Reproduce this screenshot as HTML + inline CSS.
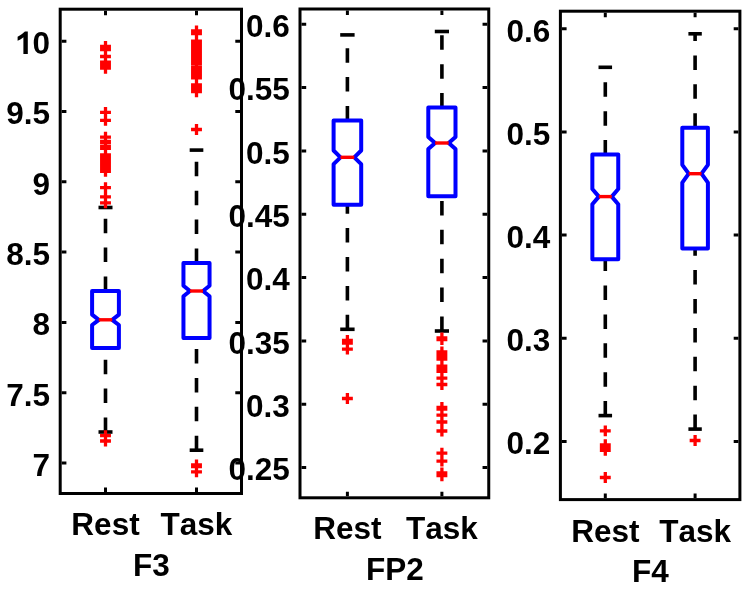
<!DOCTYPE html>
<html><head><meta charset="utf-8"><style>
html,body{margin:0;padding:0;background:#fff;width:749px;height:590px;overflow:hidden}
svg{display:block;will-change:transform}
text{font-family:"Liberation Sans",sans-serif;font-weight:bold;font-size:31.5px;font-kerning:none;fill:#000}
</style></head><body>
<svg width="749" height="590" viewBox="0 0 749 590">
<rect width="749" height="590" fill="#fff"/>
<g>
<text x="50" y="54" text-anchor="end">0</text>
<path d="M27.8 31.5V54H23.4V37.3C21.8 38.8 19.9 39.9 17.6 40.7V36.8C19 36.2 20.5 35.2 22 34C23.4 32.9 24.3 32.2 24.9 31.6Z" fill="#000"/>
<text x="50" y="124.3" text-anchor="end">9.5</text>
<text x="50" y="194.6" text-anchor="end">9</text>
<text x="50" y="264.9" text-anchor="end">8.5</text>
<text x="50" y="335.2" text-anchor="end">8</text>
<text x="50" y="405.5" text-anchor="end">7.5</text>
<text x="50" y="475.8" text-anchor="end">7</text>
<text x="105.5" y="535" text-anchor="middle">Rest</text>
<text x="196.5" y="535" text-anchor="middle">Task</text>
<text x="151.3" y="575.6" text-anchor="middle">F3</text>
<text x="289.9" y="37" text-anchor="end">0.6</text>
<text x="289.9" y="100.34" text-anchor="end">0.55</text>
<text x="289.9" y="163.68" text-anchor="end">0.5</text>
<text x="289.9" y="227.02" text-anchor="end">0.45</text>
<text x="289.9" y="290.36" text-anchor="end">0.4</text>
<text x="289.9" y="353.7" text-anchor="end">0.35</text>
<text x="289.9" y="417.04" text-anchor="end">0.3</text>
<text x="289.9" y="480.38" text-anchor="end">0.25</text>
<text x="347.4" y="539" text-anchor="middle">Rest</text>
<text x="441.9" y="539" text-anchor="middle">Task</text>
<text x="395" y="579.7" text-anchor="middle">FP2</text>
<text x="550.3" y="41.6" text-anchor="end">0.6</text>
<text x="550.3" y="144.75" text-anchor="end">0.5</text>
<text x="550.3" y="247.9" text-anchor="end">0.4</text>
<text x="550.3" y="351.05" text-anchor="end">0.3</text>
<text x="550.3" y="454.2" text-anchor="end">0.2</text>
<text x="605.3" y="541.7" text-anchor="middle">Rest</text>
<text x="695.1" y="541.7" text-anchor="middle">Task</text>
<text x="650.5" y="582" text-anchor="middle">F4</text>
</g>
<g>
<line x1="105.5" y1="291" x2="105.5" y2="207.5" stroke="#000" stroke-width="3.6" stroke-dasharray="14.5 14.4"/>
<line x1="105.5" y1="432" x2="105.5" y2="348" stroke="#000" stroke-width="3.6" stroke-dasharray="14.5 14.4"/>
<line x1="98.5" y1="207.5" x2="112.5" y2="207.5" stroke="#000" stroke-width="3.6"/>
<line x1="98.5" y1="432" x2="112.5" y2="432" stroke="#000" stroke-width="3.6"/>
<polygon points="92.1,348 92.1,325 98.8,319.8 92.1,314.6 92.1,291 118.9,291 118.9,314.6 112.2,319.8 118.9,325 118.9,348" fill="none" stroke="#00f" stroke-width="4.0" stroke-linejoin="round"/>
<line x1="98.8" y1="319.8" x2="112.2" y2="319.8" stroke="#f00" stroke-width="3.4"/>
<path d="M100.05 46.5h10.9M105.5 41.05v10.9M100.05 49.7h10.9M105.5 44.25v10.9M100.05 56.5h10.9M105.5 51.05v10.9M100.05 62.2h10.9M105.5 56.75v10.9M100.05 65.5h10.9M105.5 60.05v10.9M100.05 68.2h10.9M105.5 62.75v10.9M100.05 112.4h10.9M105.5 106.95v10.9M100.05 120.3h10.9M105.5 114.85v10.9M100.05 137.1h10.9M105.5 131.65v10.9M100.05 141.5h10.9M105.5 136.05v10.9M100.05 142.9h10.9M105.5 137.45v10.9M100.05 146.6h10.9M105.5 141.15v10.9M100.05 148.4h10.9M105.5 142.95v10.9M100.05 155h10.9M105.5 149.55v10.9M100.05 157.5h10.9M105.5 152.05v10.9M100.05 160h10.9M105.5 154.55v10.9M100.05 162.5h10.9M105.5 157.05v10.9M100.05 165.3h10.9M105.5 159.85v10.9M100.05 168.6h10.9M105.5 163.15v10.9M100.05 171.3h10.9M105.5 165.85v10.9M100.05 187.6h10.9M105.5 182.15v10.9M100.05 196.9h10.9M105.5 191.45v10.9M100.05 202.9h10.9M105.5 197.45v10.9M100.05 435.6h10.9M105.5 430.15v10.9M100.05 441h10.9M105.5 435.55v10.9" stroke="#f00" stroke-width="3.3" fill="none"/>
<line x1="196.5" y1="263" x2="196.5" y2="150.1" stroke="#000" stroke-width="3.6" stroke-dasharray="14.5 14.4"/>
<line x1="196.5" y1="450.2" x2="196.5" y2="338" stroke="#000" stroke-width="3.6" stroke-dasharray="14.5 14.4"/>
<line x1="189.67" y1="150.1" x2="203.33" y2="150.1" stroke="#000" stroke-width="3.6"/>
<line x1="189.67" y1="450.2" x2="203.33" y2="450.2" stroke="#000" stroke-width="3.6"/>
<polygon points="183.45,338 183.45,296.3 189.97,291 183.45,285.7 183.45,263 209.55,263 209.55,285.7 203.03,291 209.55,296.3 209.55,338" fill="none" stroke="#00f" stroke-width="4.0" stroke-linejoin="round"/>
<line x1="189.97" y1="291" x2="203.03" y2="291" stroke="#f00" stroke-width="3.4"/>
<path d="M191.05 31h10.9M196.5 25.55v10.9M191.05 33.6h10.9M196.5 28.15v10.9M191.05 41.2h10.9M196.5 35.75v10.9M191.05 43.8h10.9M196.5 38.35v10.9M191.05 46.4h10.9M196.5 40.95v10.9M191.05 49h10.9M196.5 43.55v10.9M191.05 51.6h10.9M196.5 46.15v10.9M191.05 54.2h10.9M196.5 48.75v10.9M191.05 56.8h10.9M196.5 51.35v10.9M191.05 59.4h10.9M196.5 53.95v10.9M191.05 62h10.9M196.5 56.55v10.9M191.05 63.5h10.9M196.5 58.05v10.9M191.05 67.1h10.9M196.5 61.65v10.9M191.05 69.6h10.9M196.5 64.15v10.9M191.05 72.2h10.9M196.5 66.75v10.9M191.05 74.8h10.9M196.5 69.35v10.9M191.05 77.8h10.9M196.5 72.35v10.9M191.05 84.8h10.9M196.5 79.35v10.9M191.05 87.4h10.9M196.5 81.95v10.9M191.05 90h10.9M196.5 84.55v10.9M191.05 91.7h10.9M196.5 86.25v10.9M191.05 129.5h10.9M196.5 124.05v10.9M191.05 464.9h10.9M196.5 459.45v10.9M191.05 466.5h10.9M196.5 461.05v10.9M191.05 471.8h10.9M196.5 466.35v10.9" stroke="#f00" stroke-width="3.3" fill="none"/>
<rect x="60.2" y="9.2" width="181.3" height="484.3" fill="none" stroke="#000" stroke-width="3.0"/>
<path d="M61.7 41.2h4.7M240 41.2h-4.7M61.7 111.5h4.7M240 111.5h-4.7M61.7 181.8h4.7M240 181.8h-4.7M61.7 252.1h4.7M240 252.1h-4.7M61.7 322.4h4.7M240 322.4h-4.7M61.7 392.7h4.7M240 392.7h-4.7M61.7 463h4.7M240 463h-4.7M105.5 10.7v4.6M105.5 492v-4.6M196.5 10.7v4.6M196.5 492v-4.6" stroke="#000" stroke-width="3.0" fill="none"/>
</g>
<g>
<line x1="347.4" y1="120.5" x2="347.4" y2="34.9" stroke="#000" stroke-width="3.6" stroke-dasharray="14.5 14.4"/>
<line x1="347.4" y1="329.3" x2="347.4" y2="204.7" stroke="#000" stroke-width="3.6" stroke-dasharray="14.5 14.4"/>
<line x1="340.2" y1="34.9" x2="354.6" y2="34.9" stroke="#000" stroke-width="3.6"/>
<line x1="340.2" y1="329.3" x2="354.6" y2="329.3" stroke="#000" stroke-width="3.6"/>
<polygon points="333.6,204.7 333.6,164.1 340.5,157.3 333.6,150.5 333.6,120.5 361.2,120.5 361.2,150.5 354.3,157.3 361.2,164.1 361.2,204.7" fill="none" stroke="#00f" stroke-width="4.0" stroke-linejoin="round"/>
<line x1="340.5" y1="157.3" x2="354.3" y2="157.3" stroke="#f00" stroke-width="3.4"/>
<path d="M341.95 340.5h10.9M347.4 335.05v10.9M341.95 343.2h10.9M347.4 337.75v10.9M341.95 349.1h10.9M347.4 343.65v10.9M341.95 398.5h10.9M347.4 393.05v10.9" stroke="#f00" stroke-width="3.3" fill="none"/>
<line x1="441.9" y1="107.6" x2="441.9" y2="31.5" stroke="#000" stroke-width="3.6" stroke-dasharray="14.5 14.4"/>
<line x1="441.9" y1="331" x2="441.9" y2="196.3" stroke="#000" stroke-width="3.6" stroke-dasharray="14.5 14.4"/>
<line x1="434.8" y1="31.5" x2="449" y2="31.5" stroke="#000" stroke-width="3.6"/>
<line x1="434.8" y1="331" x2="449" y2="331" stroke="#000" stroke-width="3.6"/>
<polygon points="428.3,196.3 428.3,149 435.1,143 428.3,137 428.3,107.6 455.5,107.6 455.5,137 448.7,143 455.5,149 455.5,196.3" fill="none" stroke="#00f" stroke-width="4.0" stroke-linejoin="round"/>
<line x1="435.1" y1="143" x2="448.7" y2="143" stroke="#f00" stroke-width="3.4"/>
<path d="M436.45 338h10.9M441.9 332.55v10.9M436.45 339.5h10.9M441.9 334.05v10.9M436.45 352h10.9M441.9 346.55v10.9M436.45 354.5h10.9M441.9 349.05v10.9M436.45 357h10.9M441.9 351.55v10.9M436.45 359.2h10.9M441.9 353.75v10.9M436.45 366.2h10.9M441.9 360.75v10.9M436.45 368.8h10.9M441.9 363.35v10.9M436.45 371.4h10.9M441.9 365.95v10.9M436.45 378.2h10.9M441.9 372.75v10.9M436.45 384.5h10.9M441.9 379.05v10.9M436.45 407.5h10.9M441.9 402.05v10.9M436.45 409.2h10.9M441.9 403.75v10.9M436.45 415.2h10.9M441.9 409.75v10.9M436.45 422h10.9M441.9 416.55v10.9M436.45 431h10.9M441.9 425.55v10.9M436.45 453.2h10.9M441.9 447.75v10.9M436.45 461.1h10.9M441.9 455.65v10.9M436.45 473h10.9M441.9 467.55v10.9M436.45 475.7h10.9M441.9 470.25v10.9" stroke="#f00" stroke-width="3.3" fill="none"/>
<rect x="300" y="9" width="188.75" height="488.8" fill="none" stroke="#000" stroke-width="3.0"/>
<path d="M301.5 24.2h4.7M487.25 24.2h-4.7M301.5 87.54h4.7M487.25 87.54h-4.7M301.5 150.88h4.7M487.25 150.88h-4.7M301.5 214.22h4.7M487.25 214.22h-4.7M301.5 277.56h4.7M487.25 277.56h-4.7M301.5 340.9h4.7M487.25 340.9h-4.7M301.5 404.24h4.7M487.25 404.24h-4.7M301.5 467.58h4.7M487.25 467.58h-4.7M347.4 10.5v4.6M347.4 496.3v-4.6M441.9 10.5v4.6M441.9 496.3v-4.6" stroke="#000" stroke-width="3.0" fill="none"/>
</g>
<g>
<line x1="605.3" y1="154.6" x2="605.3" y2="67.3" stroke="#000" stroke-width="3.6" stroke-dasharray="14.5 14.4"/>
<line x1="605.3" y1="415.6" x2="605.3" y2="259.3" stroke="#000" stroke-width="3.6" stroke-dasharray="14.5 14.4"/>
<line x1="598.52" y1="67.3" x2="612.07" y2="67.3" stroke="#000" stroke-width="3.6"/>
<line x1="598.52" y1="415.6" x2="612.07" y2="415.6" stroke="#000" stroke-width="3.6"/>
<polygon points="592.35,259.3 592.35,204.2 598.82,196.6 592.35,189 592.35,154.6 618.25,154.6 618.25,189 611.77,196.6 618.25,204.2 618.25,259.3" fill="none" stroke="#00f" stroke-width="4.0" stroke-linejoin="round"/>
<line x1="598.82" y1="196.6" x2="611.77" y2="196.6" stroke="#f00" stroke-width="3.4"/>
<path d="M599.85 430.9h10.9M605.3 425.45v10.9M599.85 444.8h10.9M605.3 439.35v10.9M599.85 447.5h10.9M605.3 442.05v10.9M599.85 450.3h10.9M605.3 444.85v10.9M599.85 477.5h10.9M605.3 472.05v10.9" stroke="#f00" stroke-width="3.3" fill="none"/>
<line x1="695.1" y1="127.7" x2="695.1" y2="33.8" stroke="#000" stroke-width="3.6" stroke-dasharray="14.5 14.4"/>
<line x1="695.1" y1="429.1" x2="695.1" y2="248.6" stroke="#000" stroke-width="3.6" stroke-dasharray="14.5 14.4"/>
<line x1="688.4" y1="33.8" x2="701.8" y2="33.8" stroke="#000" stroke-width="3.6"/>
<line x1="688.4" y1="429.1" x2="701.8" y2="429.1" stroke="#000" stroke-width="3.6"/>
<polygon points="682.3,248.6 682.3,182.6 688.7,173.7 682.3,164.8 682.3,127.7 707.9,127.7 707.9,164.8 701.5,173.7 707.9,182.6 707.9,248.6" fill="none" stroke="#00f" stroke-width="4.0" stroke-linejoin="round"/>
<line x1="688.7" y1="173.7" x2="701.5" y2="173.7" stroke="#f00" stroke-width="3.4"/>
<path d="M689.65 440.5h10.9M695.1 435.05v10.9" stroke="#f00" stroke-width="3.3" fill="none"/>
<rect x="560.4" y="11.2" width="179.5" height="488.4" fill="none" stroke="#000" stroke-width="3.0"/>
<path d="M561.9 28.8h4.7M738.4 28.8h-4.7M561.9 131.95h4.7M738.4 131.95h-4.7M561.9 235.1h4.7M738.4 235.1h-4.7M561.9 338.25h4.7M738.4 338.25h-4.7M561.9 441.4h4.7M738.4 441.4h-4.7M605.3 12.7v4.6M605.3 498.1v-4.6M695.1 12.7v4.6M695.1 498.1v-4.6" stroke="#000" stroke-width="3.0" fill="none"/>
</g>
</svg></body></html>
